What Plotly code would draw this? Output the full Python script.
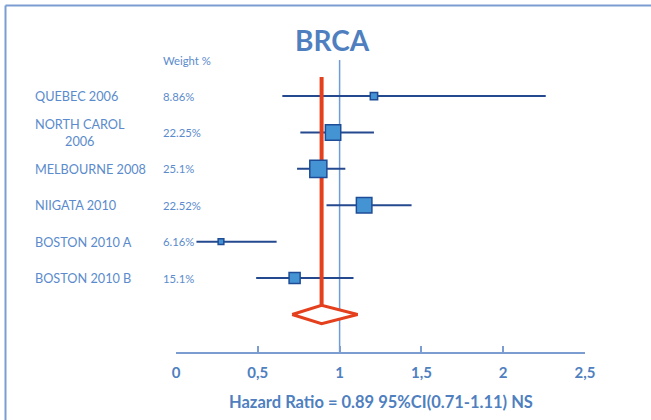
import plotly.graph_objects as go

# ---- data ----
studies = ["QUEBEC 2006", "NORTH CAROL<br>2006", "MELBOURNE 2008", "NIIGATA 2010",
           "BOSTON 2010 A", "BOSTON 2010 B"]
weights = [8.86, 22.25, 25.1, 22.52, 6.16, 15.1]
weight_labels = ["8.86%", "22.25%", "25.1%", "22.52%", "6.16%", "15.1%"]
hr = [1.21, 0.96, 0.87, 1.15, 0.275, 0.725]
ci_lo = [0.65, 0.76, 0.74, 0.92, 0.125, 0.49]
ci_hi = [2.26, 1.21, 1.035, 1.44, 0.615, 1.085]
pooled_hr = 0.89
pooled_lo = 0.71
pooled_hi = 1.11
tick_vals = [0, 0.5, 1, 1.5, 2, 2.5]
tick_text = ["0", "0,5", "1", "1,5", "2", "2,5"]

# ---- layout geometry ----
W, H = 651, 420
L, R, T, B = 176, 66, 60, 68
rows = list(range(len(studies)))
diamond_row = len(studies)
y_top, y_bot = -0.99, 7.03

def px_x(px):
    return (px - L) / (W - L - R)

def px_y(py):
    return (H - B - py) / (H - T - B)

title_col = "#4f7fbf"
text_col = "#5b8bcc"
axis_col = "#7b9dd2"
ci_col = "#24498f"
red = "#e4401e"

fig = go.Figure()

# reference line at 1
fig.add_trace(go.Scatter(x=[1, 1], y=[y_top, y_bot], mode="lines",
                         line=dict(color="#6f9bd6", width=1.5), hoverinfo="skip"))

# CI lines
cx, cy = [], []
for i in rows:
    cx += [ci_lo[i], ci_hi[i], None]
    cy += [i, i, None]
fig.add_trace(go.Scatter(x=cx, y=cy, mode="lines",
                         line=dict(color=ci_col, width=2), hoverinfo="skip"))

# pooled vertical red line
fig.add_trace(go.Scatter(x=[pooled_hr, pooled_hr], y=[-0.52, diamond_row - 0.25],
                         mode="lines", line=dict(color=red, width=4), hoverinfo="skip"))

# diamond
fig.add_trace(go.Scatter(
    x=[pooled_lo, pooled_hr, pooled_hi, pooled_hr, pooled_lo],
    y=[diamond_row, diamond_row - 0.25, diamond_row, diamond_row + 0.25, diamond_row],
    mode="lines", fill="toself", fillcolor="white",
    line=dict(color=red, width=3), hoverinfo="skip"))

# study squares
sizes = [2 + 0.6 * w for w in weights]
fig.add_trace(go.Scatter(x=hr, y=rows, mode="markers",
                         marker=dict(symbol="square", size=sizes, color="#4494d4",
                                     opacity=1,
                                     line=dict(color="#1f4c96", width=1.5)),
                         hoverinfo="skip"))

ann = []
for i in rows:
    ann.append(dict(x=px_x(33), xref="paper", y=i, yref="y", text=studies[i],
                    xanchor="left", yanchor="middle", align="center", showarrow=False,
                    font=dict(size=12.7, color=text_col, family="Lato")))
    ann.append(dict(x=px_x(161), xref="paper", y=i, yref="y", text=weight_labels[i],
                    xanchor="left", yanchor="middle", showarrow=False,
                    font=dict(size=11.3, color=text_col, family="Lato")))
ann.append(dict(x=px_x(161), xref="paper", y=px_y(60), yref="paper", text="Weight %",
                xanchor="left", yanchor="middle", showarrow=False,
                font=dict(size=11.3, color=text_col, family="Lato")))
ann.append(dict(x=px_x(332), xref="paper", y=px_y(40), yref="paper", text="<b>BRCA</b>",
                xanchor="center", yanchor="middle", showarrow=False,
                font=dict(size=28, color=title_col, family="Lato")))
ann.append(dict(x=px_x(381), xref="paper", y=px_y(402), yref="paper",
                text="<b>Hazard Ratio = 0.89 95%CI(0.71-1.11) NS</b>",
                xanchor="center", yanchor="middle", showarrow=False,
                font=dict(size=16.5, color=title_col, family="Lato")))

shapes = [
    dict(type="line", xref="paper", yref="paper", x0=px_x(5.5), x1=px_x(651),
         y0=px_y(5.5), y1=px_y(5.5), line=dict(color=axis_col, width=2)),
    dict(type="line", xref="paper", yref="paper", x0=px_x(5.5), x1=px_x(5.5),
         y0=px_y(5.5), y1=px_y(420), line=dict(color=axis_col, width=2)),
]

fig.update_layout(
    width=W, height=H, margin=dict(l=L, r=R, t=T, b=B),
    paper_bgcolor="white", plot_bgcolor="white", showlegend=False,
    annotations=ann, shapes=shapes,
    xaxis=dict(range=[0, 2.5], tickvals=tick_vals, ticktext=tick_text,
               showgrid=False, zeroline=False, showline=True, linecolor=axis_col,
               linewidth=2, ticks="inside", ticklen=6, tickwidth=2, tickcolor=axis_col,
               ticklabelstandoff=6,
               tickfont=dict(size=15, color=title_col, family="Lato", weight="bold"),
               fixedrange=True),
    yaxis=dict(range=[y_bot, y_top], visible=False, fixedrange=True),
)

fig.write_html("out.html")
